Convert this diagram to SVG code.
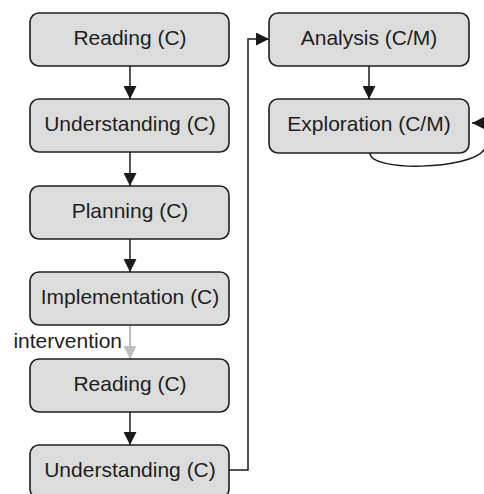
<svg xmlns="http://www.w3.org/2000/svg" width="484" height="494" viewBox="0 0 484 494">
<defs>
<marker id="ah" markerWidth="13" markerHeight="13" refX="13" refY="6.5" orient="auto" markerUnits="userSpaceOnUse"><path d="M0,0 L13,6.5 L0,13 Z" fill="#1a1a1a"/></marker>
<marker id="ahg" markerWidth="13" markerHeight="13" refX="13" refY="6.5" orient="auto" markerUnits="userSpaceOnUse"><path d="M0,0 L13,6.5 L0,13 Z" fill="#bdbdbd"/></marker>
</defs>
<style>
.box{fill:#dcdcdc;stroke:#1e1e1e;stroke-width:1.6}
.t{font-family:"Liberation Sans",Arial,sans-serif;font-size:21px;fill:#1e1e1e;text-anchor:middle}
.c{fill:none;stroke:#1a1a1a;stroke-width:1.5}
.g{fill:none;stroke:#bdbdbd;stroke-width:2}
</style>
<rect width="484" height="494" fill="#ffffff"/>
<g id="connectors">
<line class="c" x1="130" y1="66" x2="130" y2="99" marker-end="url(#ah)"/>
<line class="c" x1="130" y1="152" x2="130" y2="186" marker-end="url(#ah)"/>
<line class="c" x1="130" y1="239" x2="130" y2="272" marker-end="url(#ah)"/>
<line class="g" x1="130" y1="325" x2="130" y2="359" marker-end="url(#ahg)"/>
<line class="c" x1="130" y1="412" x2="130" y2="445" marker-end="url(#ah)"/>
<polyline class="c" points="229,470 248,470 248,39 269,39" marker-end="url(#ah)"/>
<line class="c" x1="369" y1="66" x2="369" y2="99" marker-end="url(#ah)"/>
<path class="c" d="M370,153 C370,172 470,170 484,150 L492,130 L492,123 L472,123" marker-end="url(#ah)"/>
<text class="t" x="122" y="348" style="text-anchor:end">intervention</text>
</g>
<g id="n1"><rect class="box" x="30" y="13" width="199" height="53" rx="9"/><text class="t" x="130" y="45">Reading (C)</text></g>
<g id="n2"><rect class="box" x="30" y="99" width="199" height="53" rx="9"/><text class="t" x="130" y="131">Understanding (C)</text></g>
<g id="n3"><rect class="box" x="30" y="186" width="199" height="53" rx="9"/><text class="t" x="130" y="218">Planning (C)</text></g>
<g id="n4"><rect class="box" x="30" y="272" width="199" height="53" rx="9"/><text class="t" x="130" y="304">Implementation (C)</text></g>
<g id="n5"><rect class="box" x="30" y="359" width="199" height="53" rx="9"/><text class="t" x="130" y="391">Reading (C)</text></g>
<g id="n6"><rect class="box" x="30" y="445" width="199" height="53" rx="9"/><text class="t" x="130" y="477">Understanding (C)</text></g>
<g id="n7"><rect class="box" x="269" y="13" width="200" height="53" rx="9"/><text class="t" x="369" y="45">Analysis (C/M)</text></g>
<g id="n8"><rect class="box" x="269" y="99" width="200" height="54" rx="9"/><text class="t" x="369" y="131">Exploration (C/M)</text></g>
</svg>
